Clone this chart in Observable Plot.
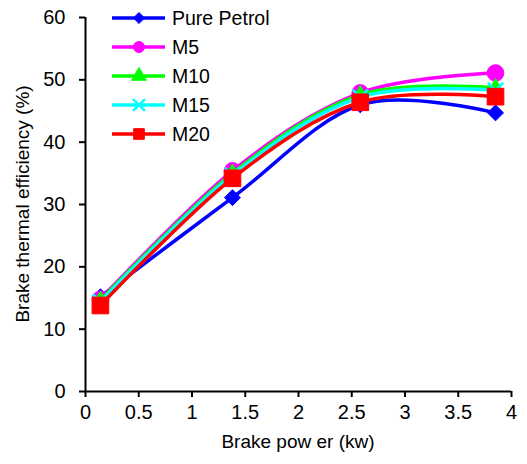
<!DOCTYPE html>
<html>
<head>
<meta charset="utf-8">
<script src="https://cdn.jsdelivr.net/npm/d3@7"></script>
<script src="https://cdn.jsdelivr.net/npm/@observablehq/plot@0.6"></script>
<style>
  html, body { margin: 0; padding: 0; background: #fff; }
  #chart { width: 527px; height: 464px; }
  svg { font-family: "Liberation Sans", Arial, sans-serif; }
</style>
</head>
<body>
<div id="chart"></div>
<script>
const brakePower = [0.14, 1.38, 2.58, 3.85];
const seriesNames = ["Pure Petrol", "M5", "M10", "M15", "M20"];
const purePetrol = [15.2, 31.1, 46.0, 44.7];
const m5 = [14.8, 35.4, 47.9, 51.1];
const m10 = [14.6, 35.0, 47.6, 48.7];
const m15 = [14.4, 34.7, 47.2, 48.3];
const m20 = [13.8, 34.2, 46.4, 47.3];
const xTicks = [0, 0.5, 1, 1.5, 2, 2.5, 3, 3.5, 4];
const yTicks = [0, 10, 20, 30, 40, 50, 60];

const values = [purePetrol, m5, m10, m15, m20];
const colors = ["#0000ff", "#ff00ff", "#00ff00", "#00ffff", "#ff0000"];
const symbols = ["diamond2", "circle", "triangle", "times", "square"];
const sizes = [7.2, 8.3, 6, 7, 9.4];
const legendSizes = [5, 5.5, 5.5, 5.5, 6];

const data = [];
seriesNames.forEach((s, i) => brakePower.forEach((x, j) => data.push({series: s, x, y: values[i][j]})));

const marks = [];
seriesNames.forEach((s, i) => {
  const d = data.filter(p => p.series === s);
  marks.push(Plot.line(d, {x: "x", y: "y", stroke: colors[i], strokeWidth: 3.5, curve: "cardinal"}));
  const isStroke = symbols[i] === "times";
  marks.push(Plot.dot(d, {
    x: "x", y: "y", symbol: () => symbols[i], r: sizes[i],
    fill: isStroke ? "none" : colors[i],
    stroke: colors[i], strokeWidth: isStroke ? 2.5 : 1
  }));
});

const chart = Plot.plot({
  width: 527,
  height: 464,
  marginLeft: 85,
  marginRight: 16,
  marginTop: 17,
  marginBottom: 73,
  style: {fontFamily: "'Liberation Sans', Arial, sans-serif", fontSize: "20px", background: "#fff", color: "#000"},
  x: {domain: [0, 4]},
  y: {domain: [0, 60]},
  symbol: {type: "identity"},
  marks: [
    Plot.axisX({ticks: xTicks, tickFormat: d => String(d), tickSize: 6, tickPadding: 7, fontSize: 20, stroke: "#000", strokeWidth: 2,
      label: null, fill: "#000"}),
    Plot.axisY({ticks: yTicks, tickFormat: d => String(d), tickSize: 6, tickPadding: 14, fontSize: 20, stroke: "#000", strokeWidth: 2,
      label: null, fill: "#000"}),
    ...marks,
    Plot.ruleX([0], {stroke: "#000", strokeWidth: 2}),
    Plot.ruleY([0], {stroke: "#000", strokeWidth: 2})
  ]
});
document.getElementById("chart").appendChild(chart);

const svg = d3.select(chart);
// Axis titles
svg.append("text").attr("x", 85 + (527 - 85 - 16) / 2).attr("y", 441).attr("dy", "0.35em")
  .attr("text-anchor", "middle").attr("font-size", 19).attr("fill", "#000").text("Brake pow er (kw)");
svg.append("text").attr("transform", `translate(22,${17 + (464 - 17 - 73) / 2}) rotate(-90)`).attr("dy", "0.35em")
  .attr("text-anchor", "middle").attr("font-size", 19).attr("fill", "#000").text("Brake thermal efficiency (%)");

// Legend inside plot area (top-left)
const symMap = {diamond2: d3.symbolDiamond2, circle: d3.symbolCircle, triangle: d3.symbolTriangle, times: d3.symbolTimes, square: d3.symbolSquare};
const lg = svg.append("g").attr("transform", "translate(112,18)");
seriesNames.forEach((s, i) => {
  const row = lg.append("g").attr("transform", `translate(0,${i * 29})`);
  row.append("line").attr("x1", 0).attr("x2", 53).attr("y1", 0).attr("y2", 0)
    .attr("stroke", colors[i]).attr("stroke-width", 3.5);
  const isStroke = symbols[i] === "times";
  row.append("path")
    .attr("transform", "translate(27,0)")
    .attr("d", d3.symbol(symMap[symbols[i]], Math.PI * legendSizes[i] ** 2)())
    .attr("fill", isStroke ? "none" : colors[i])
    .attr("stroke", colors[i]).attr("stroke-width", isStroke ? 2.5 : 1);
  row.append("text").attr("x", 60).attr("y", 0).attr("dy", "0.35em")
    .attr("text-anchor", "start").attr("font-size", 19.5).attr("fill", "#000").text(s);
});
</script>
</body>
</html>
